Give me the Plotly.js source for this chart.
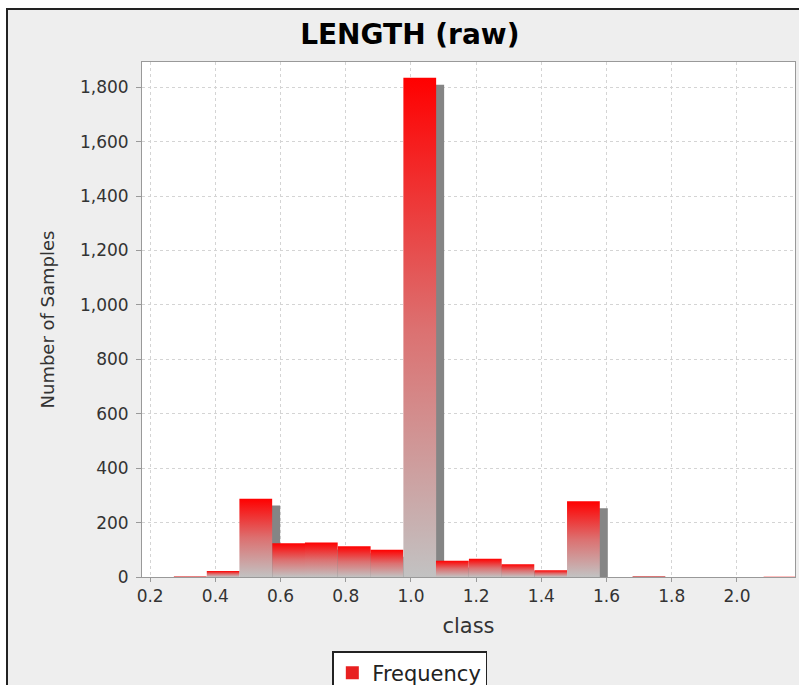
<!DOCTYPE html>
<html>
<head>
<meta charset="utf-8">
<script src="https://cdn.plot.ly/plotly-3.0.1.min.js"></script>
<style>
  html, body { margin: 0; padding: 0; background: #ffffff; width: 799px; height: 685px; overflow: hidden; }
  #frame { position: absolute; left: 6px; top: 8px; border-left: 2px solid #222; border-top: 2px solid #222; }
  #chart { width: 791px; height: 675px; }
</style>
</head>
<body>
<div id="frame"><div id="chart"></div></div>
<script>
// ---- data ----
const binCenters = [0.323, 0.424, 0.524, 0.625, 0.725, 0.826, 0.926, 1.027, 1.127, 1.228,
                    1.328, 1.429, 1.529, 1.630, 1.730, 1.831, 1.931, 2.032, 2.132];
const counts     = [3, 22, 288, 124, 127, 113, 100, 1835, 60, 67,
                    47, 25, 278, 0, 4, 0, 0, 0, 1];
const binWidth = 0.1005;
const seriesName = 'Frequency';
const xTickVals = [0.2, 0.4, 0.6, 0.8, 1.0, 1.2, 1.4, 1.6, 1.8, 2.0];
const xTickText = ['0.2', '0.4', '0.6', '0.8', '1.0', '1.2', '1.4', '1.6', '1.8', '2.0'];
const yTickVals = [0, 200, 400, 600, 800, 1000, 1200, 1400, 1600, 1800];
const yTickText = ['0', '200', '400', '600', '800', '1,000', '1,200', '1,400', '1,600', '1,800'];
const chartTitle = 'LENGTH (raw)';
const xTitle = 'class';
const yTitle = 'Number of Samples';

// ---- styling ----
const FONT = 'DejaVu Sans, Arial, sans-serif';
const xRange = [0.175, 2.178];
const yRange = [0, 1893];
const shadowDx = 0.0245;   // ~8 px
const shadowDy = 25.5;     // ~7 px

const shadows = [];
const bars = [];
binCenters.forEach((c, i) => {
  const v = counts[i];
  if (v <= 0) return;
  const l = c - binWidth / 2, r = c + binWidth / 2;
  shadows.push({
    type: 'scatter', mode: 'none', fill: 'toself',
    x: [l + shadowDx, l + shadowDx, r + shadowDx, r + shadowDx, l + shadowDx],
    y: [-shadowDy, v - shadowDy, v - shadowDy, -shadowDy, -shadowDy],
    fillcolor: '#858585', showlegend: false, hoverinfo: 'skip'
  });
  bars.push({
    type: 'scatter', mode: 'none', fill: 'toself',
    x: [l, l, r, r, l],
    y: [0, v, v, 0, 0],
    fillcolor: '#ff0000',
    fillgradient: { type: 'vertical', colorscale: [[0, '#c2c2c2'], [0.5, '#dc7070'], [1, '#ff0000']] },
    name: seriesName, legendgroup: 'f', showlegend: false,
    text: String(v), hoverinfo: 'text'
  });
});

// legend key (square swatch like the reference)
const legendKey = {
  type: 'scatter', mode: 'markers', x: [null], y: [null],
  name: seriesName, legendgroup: 'f', showlegend: true,
  marker: { symbol: 'square', size: 13, color: '#e82020' }
};

const layout = {
  width: 791, height: 675,
  paper_bgcolor: '#eeeeee', plot_bgcolor: '#ffffff',
  margin: { l: 134, r: 4, t: 52, b: 108 },
  font: { family: FONT, color: '#333' },
  title: { text: chartTitle, x: 0.508, xref: 'container', xanchor: 'center',
           y: 1 - 24 / 675, yref: 'container', yanchor: 'middle',
           font: { family: FONT, size: 28, color: '#000', weight: 'bold' } },
  xaxis: {
    range: xRange, tickvals: xTickVals, ticktext: xTickText,
    showgrid: true, gridcolor: '#d4d4d4', griddash: 'dot', gridwidth: 1,
    zeroline: false, showline: true, linecolor: '#999', linewidth: 1, mirror: true,
    ticks: 'outside', ticklen: 4, tickcolor: '#999',
    tickfont: { family: FONT, size: 17, color: '#333' },
    title: { text: xTitle, standoff: 12, font: { family: FONT, size: 21, color: '#333' } }
  },
  yaxis: {
    range: yRange, tickvals: yTickVals, ticktext: yTickText,
    showgrid: true, gridcolor: '#d4d4d4', griddash: 'dot', gridwidth: 1,
    zeroline: false, showline: true, linecolor: '#999', linewidth: 1, mirror: true,
    ticks: 'outside', ticklen: 5, tickcolor: '#999', ticklabelstandoff: 4,
    tickfont: { family: FONT, size: 17, color: '#333' },
    title: { text: yTitle, standoff: 20, font: { family: FONT, size: 18, color: '#333' } }
  },
  showlegend: true,
  legend: {
    orientation: 'h', xref: 'container', x: 0.508, xanchor: 'center',
    yref: 'container', y: 1 - 641 / 675, yanchor: 'top',
    bgcolor: '#ffffff', bordercolor: '#222', borderwidth: 1.5,
    font: { family: FONT, size: 21, color: '#222' }, itemwidth: 30
  }
};

Plotly.newPlot('chart', shadows.concat(bars, [legendKey]), layout, { displayModeBar: false, staticPlot: true });
</script>
</body>
</html>
